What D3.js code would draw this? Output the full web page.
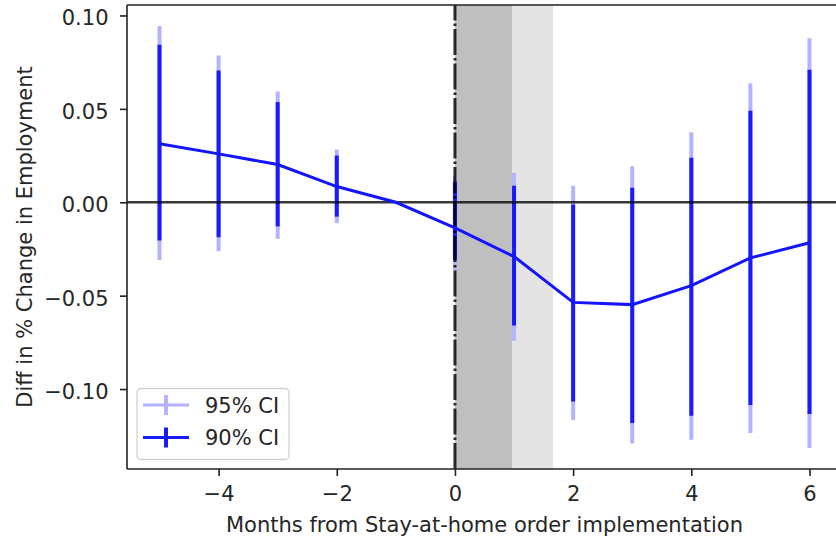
<!DOCTYPE html>
<html>
<head>
<meta charset="utf-8">
<script src="https://cdn.jsdelivr.net/npm/d3@7"></script>
<style>
html,body{margin:0;padding:0;background:#fff;}
svg{display:block;}
text{font-family:"DejaVu Sans",sans-serif;fill:#262626;}
</style>
</head>
<body>
<svg id="chart" width="836" height="541"></svg>
<script>
const months    = [-5, -4, -3, -2, -1, 0, 1, 2, 3, 4, 5, 6];
const estimate  = [0.0313, 0.0259, 0.0202, 0.0084, 0.0, -0.0137, -0.0291, -0.0536, -0.0548, -0.0446, -0.0298, -0.0217];
const ci90Low   = [-0.0205, -0.0187, -0.0129, -0.0077, null, -0.031, -0.0660, -0.1066, -0.1182, -0.1143, -0.1085, -0.1133];
const ci90High  = [0.0843, 0.0705, 0.0536, 0.0250, null, 0.011, 0.0089, -0.0012, 0.0077, 0.0238, 0.0490, 0.0709];
const ci95Low   = [-0.0309, -0.0262, -0.0196, -0.0112, null, -0.0366, -0.0741, -0.1166, -0.1291, -0.1271, -0.1235, -0.1315];
const ci95High  = [0.0943, 0.0786, 0.0593, 0.0282, null, 0.0140, 0.0157, 0.0089, 0.0193, 0.0375, 0.0637, 0.0878];
const xTicks = [-4, -2, 0, 2, 4, 6];
const yTicks = [-0.10, -0.05, 0.00, 0.05, 0.10];
const darkSpan = [0, 0.97];
const lightSpan = [0.97, 1.66];
const legendLabels = ["95% CI", "90% CI"];
const xLabel = "Months from Stay-at-home order implementation";
const yLabel = "Diff in % Change in Employment";

const svg = d3.select("#chart");
const L = 127, R = 842, T = 5, B = 469;
const x = d3.scaleLinear().domain([-5.55, 6.55]).range([L, R]);
const y = d3.scaleLinear().domain([-0.1428, 0.1056]).range([B, T]);
const fs = 21;

// shaded spans
svg.append("rect").attr("x", x(darkSpan[0])).attr("y", T)
  .attr("width", x(darkSpan[1]) - x(darkSpan[0])).attr("height", B - T).attr("fill", "#bfbfbf");
svg.append("rect").attr("x", x(lightSpan[0])).attr("y", T)
  .attr("width", x(lightSpan[1]) - x(lightSpan[0])).attr("height", B - T).attr("fill", "#e4e4e4");

const pts = months.map((m, i) => ({m, e: estimate[i], l90: ci90Low[i], h90: ci90High[i], l95: ci95Low[i], h95: ci95High[i]}));
const withCI = pts.filter(d => d.l90 !== null);

// 95% CI
svg.append("g").selectAll("line").data(withCI).join("line")
  .attr("x1", d => x(d.m)).attr("x2", d => x(d.m))
  .attr("y1", d => y(d.l95)).attr("y2", d => y(d.h95))
  .attr("stroke", "#b3b3ff").attr("stroke-width", 4);
// 90% CI
svg.append("g").selectAll("line").data(withCI).join("line")
  .attr("x1", d => x(d.m)).attr("x2", d => x(d.m))
  .attr("y1", d => y(d.l90)).attr("y2", d => y(d.h90))
  .attr("stroke", "#1a1aff").attr("stroke-width", 4);

// zero line
svg.append("line").attr("x1", L).attr("x2", 836).attr("y1", y(0)).attr("y2", y(0))
  .attr("stroke", "#000").attr("stroke-opacity", 0.78).attr("stroke-width", 2.6);
// vertical dash-dot line
svg.append("line").attr("x1", x(0)).attr("x2", x(0)).attr("y1", B).attr("y2", T)
  .attr("stroke", "#000").attr("stroke-opacity", 0.82).attr("stroke-width", 3)
  .attr("stroke-dasharray", "26,3,2.5,3");

// main line
svg.append("path").datum(pts)
  .attr("d", d3.line().x(d => x(d.m)).y(d => y(d.e)))
  .attr("fill", "none").attr("stroke", "#1414ff").attr("stroke-width", 3);

// spines
svg.append("line").attr("x1", L).attr("x2", L).attr("y1", T).attr("y2", B).attr("stroke", "#222").attr("stroke-width", 1.6);
svg.append("line").attr("x1", L).attr("x2", 836).attr("y1", B).attr("y2", B).attr("stroke", "#222").attr("stroke-width", 1.6);
svg.append("line").attr("x1", L).attr("x2", 836).attr("y1", T).attr("y2", T).attr("stroke", "#222").attr("stroke-width", 1.6);

// axes
const fmtY = v => d3.format(".2f")(v).replace("-", "\u2212");
const fmtX = v => String(v).replace("-", "\u2212");
const xAxis = svg.append("g").attr("transform", `translate(0,${B})`)
  .call(d3.axisBottom(x).tickValues(xTicks).tickFormat(fmtX).tickSize(7).tickPadding(10.5));
const yAxis = svg.append("g").attr("transform", `translate(${L},0)`)
  .call(d3.axisLeft(y).tickValues(yTicks).tickFormat(fmtY).tickSize(7).tickPadding(11.5));
[xAxis, yAxis].forEach(g => {
  g.select(".domain").remove();
  g.selectAll(".tick line").attr("stroke", "#222").attr("stroke-width", 1.6);
  g.selectAll(".tick text").attr("font-size", fs).attr("font-family", "DejaVu Sans").attr("fill", "#262626");
});
yAxis.selectAll(".tick text").attr("dy", "0.45em");

// axis labels
svg.append("text").attr("x", (L + R) / 2).attr("y", 531.5).attr("text-anchor", "middle")
  .attr("font-size", fs).text(xLabel);
svg.append("text").attr("transform", `translate(32,${(T + B) / 2}) rotate(-90)`)
  .attr("text-anchor", "middle").attr("font-size", fs).text(yLabel);

// legend
const lg = svg.append("g");
lg.append("rect").attr("x", 137).attr("y", 388.5).attr("width", 152).attr("height", 71)
  .attr("rx", 4).attr("fill", "#fff").attr("fill-opacity", 0.85)
  .attr("stroke", "#d0d0d0").attr("stroke-width", 1.3);
const legendColors = ["#b3b3ff", "#1a1aff"];
legendLabels.forEach((lab, i) => {
  const cy = 405 + i * 32.5;
  lg.append("line").attr("x1", 143).attr("x2", 189).attr("y1", cy).attr("y2", cy)
    .attr("stroke", legendColors[i]).attr("stroke-width", 3);
  lg.append("line").attr("x1", 166).attr("x2", 166).attr("y1", cy - 10).attr("y2", cy + 10)
    .attr("stroke", legendColors[i]).attr("stroke-width", 4);
  lg.append("text").attr("x", 205).attr("y", cy + 7.5).attr("font-size", fs).text(lab);
});
</script>
</body>
</html>
